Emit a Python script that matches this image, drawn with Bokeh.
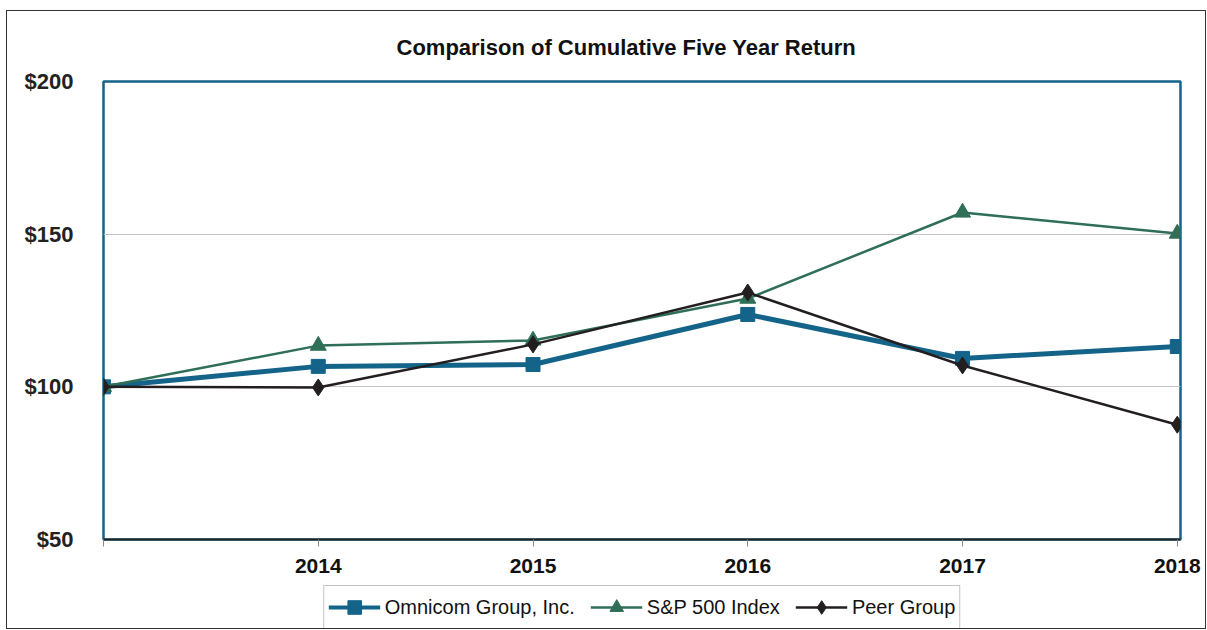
from bokeh.plotting import figure
from bokeh.layouts import column
from bokeh.models import FixedTicker, Legend, LegendItem, Title
from bokeh.embed import file_html
from bokeh.resources import INLINE

years = [2013, 2014, 2015, 2016, 2017, 2018]
omnicom = [100.0, 106.7, 107.3, 123.7, 109.3, 113.2]
sp500 = [100.0, 113.5, 115.2, 128.9, 157.1, 150.2]
peer = [100.0, 99.8, 113.9, 130.9, 107.0, 87.6]
y_ticks = [50, 100, 150, 200]
y_labels = {50: "$50", 100: "$100", 150: "$150", 200: "$200"}
x_labels = {2013: "", 2014: "2014", 2015: "2015", 2016: "2016", 2017: "2017", 2018: "2018"}
series_names = ["Omnicom Group, Inc.", "S&P 500 Index", "Peer Group"]

C_OMC = "#14648a"
C_SP = "#2f6e57"
C_PEER = "#231f20"
FONT = "Liberation Sans"

p = figure(width=1198, height=571, output_backend="svg", toolbar_location=None,
           x_range=(2013, 2018.015), y_range=(50, 200),
           min_border_left=96, min_border_right=25, min_border_top=70, min_border_bottom=43)
t = Title(text="Comparison of Cumulative Five Year Return", align="left",
          text_font=FONT, text_font_size="22px", text_font_style="bold",
          text_color="#111111", offset=293, standoff=43)
p.add_layout(t, "above")

p.outline_line_color = C_OMC
p.outline_line_width = 2.5
p.background_fill_color = "white"
p.border_fill_color = "white"

p.xgrid.visible = False
p.ygrid.ticker = FixedTicker(ticks=[100, 150])
p.ygrid.grid_line_color = "#c4c4c4"
p.ygrid.grid_line_width = 1.2

p.xaxis.ticker = FixedTicker(ticks=years)
p.xaxis.major_label_overrides = x_labels
p.xaxis.major_label_text_font = FONT
p.xaxis.major_label_text_font_size = "21px"
p.xaxis.major_label_text_font_style = "bold"
p.xaxis.major_label_text_color = "#111111"
p.xaxis.axis_line_color = "#222222"
p.xaxis.axis_line_width = 2
p.xaxis.major_tick_in = 0
p.xaxis.major_tick_out = 7
p.xaxis.major_tick_line_color = "#888888"
p.xaxis.minor_tick_line_color = None
p.xaxis.major_label_standoff = 12

p.yaxis.ticker = FixedTicker(ticks=y_ticks)
p.yaxis.major_label_overrides = y_labels
p.yaxis.major_label_text_font = FONT
p.yaxis.major_label_text_font_size = "22px"
p.yaxis.major_label_text_font_style = "bold"
p.yaxis.major_label_text_color = "#222222"
p.yaxis.axis_line_color = None
p.yaxis.major_tick_in = 0
p.yaxis.major_tick_out = 0
p.yaxis.major_tick_line_color = None
p.yaxis.minor_tick_line_color = None
p.yaxis.major_label_standoff = 30

styles = [(C_OMC, 5, "square", 14), (C_SP, 2.5, "triangle", 16), (C_PEER, 2.5, "diamond", 17)]
series = [omnicom, sp500, peer]
for vals, (c, lw, mk, sz) in zip(series, styles):
    p.line(years, vals, line_color=c, line_width=lw)
    p.scatter(years, vals, marker=mk, size=sz, fill_color=c, line_color=c)

# legend strip: same series drawn off-range so only the legend shows
lf = figure(width=1198, height=46, output_backend="svg", toolbar_location=None,
            x_range=(0, 1), y_range=(0, 1),
            min_border_left=96, min_border_right=25, min_border_top=0, min_border_bottom=0)
lf.axis.visible = False
lf.grid.visible = False
lf.outline_line_color = None
lf.border_fill_color = "white"
items = []
for name, vals, (c, lw, mk, sz) in zip(series_names, series, styles):
    lr = lf.line(years, vals, line_color=c, line_width=min(lw, 4))
    mr = lf.scatter(years, vals, marker=mk, size=sz, fill_color=c, line_color=c)
    items.append(LegendItem(label=name, renderers=[lr, mr]))

legend = Legend(items=items, orientation="horizontal", location="top_center",
    label_text_font=FONT, label_text_font_size="20px", label_text_color="#111111",
    glyph_width=52, glyph_height=34, spacing=15, label_standoff=5,
    border_line_color="#888888", border_line_width=1.2,
    padding=4, margin=3)
lf.add_layout(legend, "center")

layout = column(p, lf, spacing=0)
layout.styles = {"border": "1.5px solid #333333", "margin-left": "6px", "margin-top": "10px"}

open("out.html", "w").write(file_html(layout, INLINE))
